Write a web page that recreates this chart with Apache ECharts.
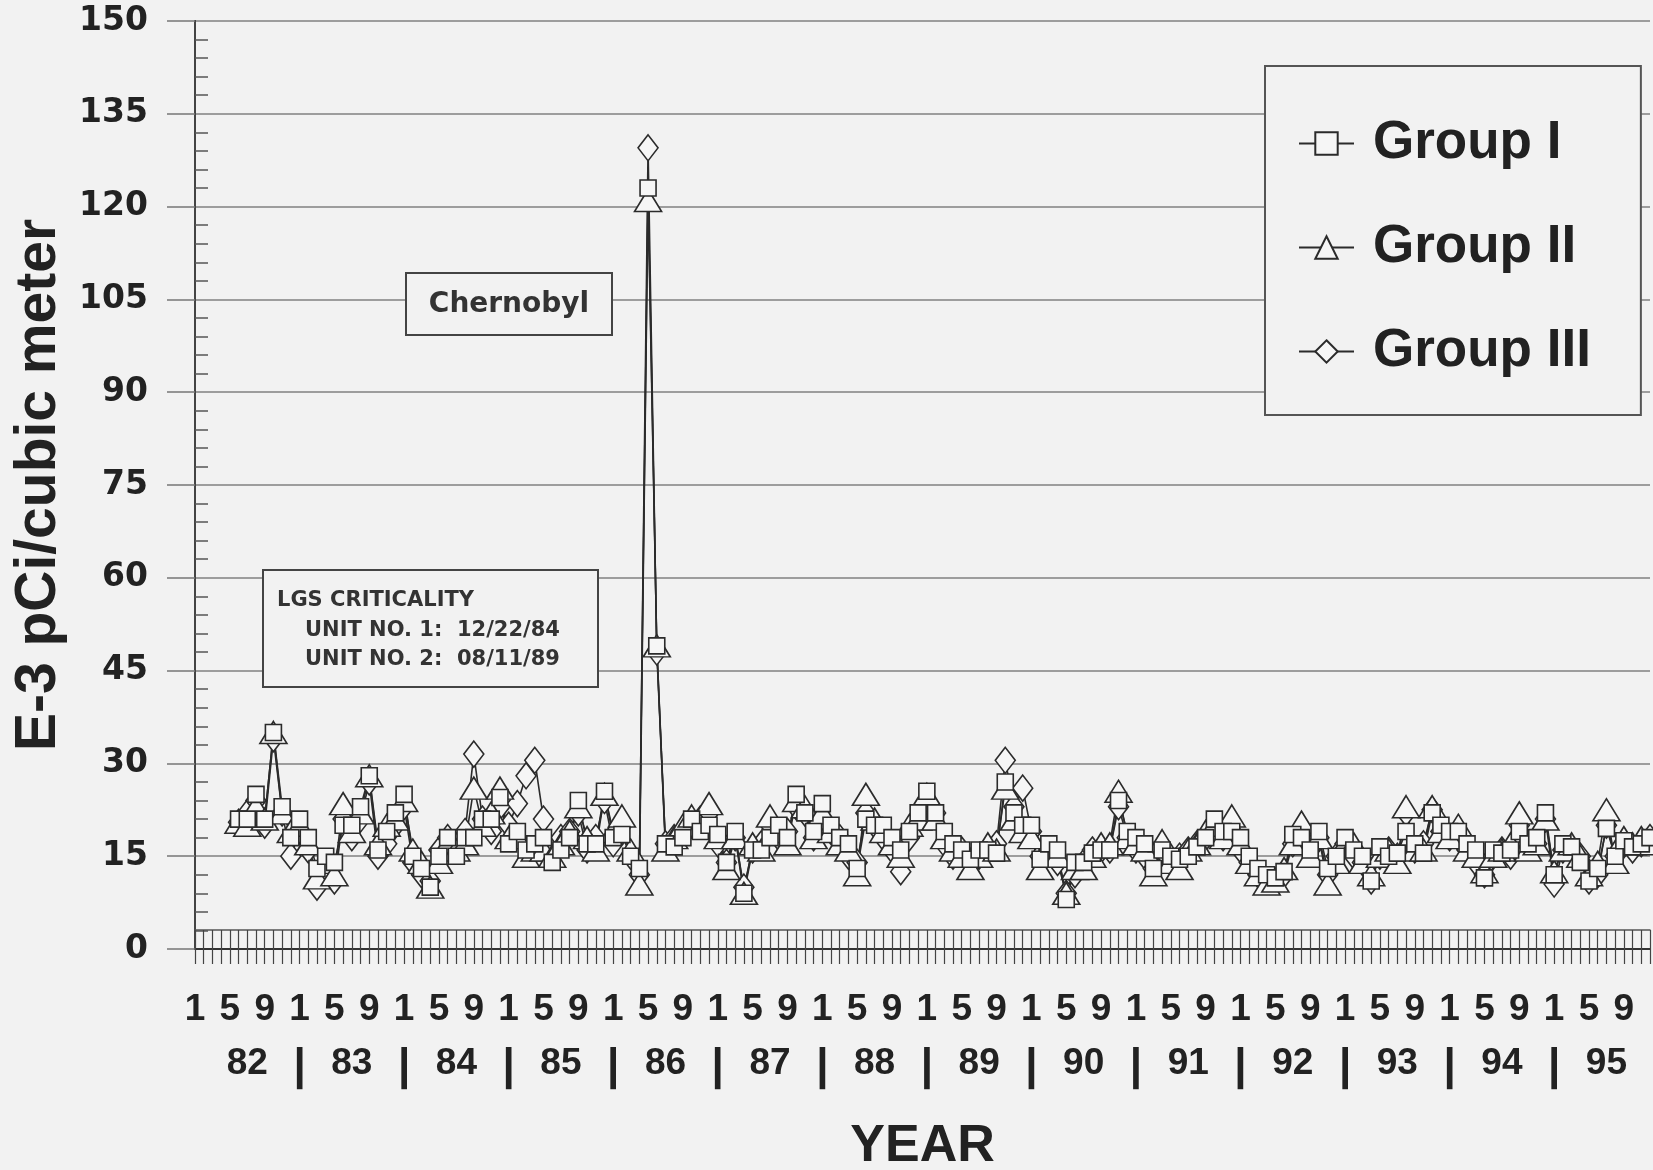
<!DOCTYPE html>
<html><head><meta charset="utf-8">
<script src="https://cdn.jsdelivr.net/npm/echarts@6/dist/echarts.min.js"></script>
<style>html,body{margin:0;padding:0;background:#f2f2f2}#c{width:1653px;height:1170px}</style>
</head><body><div id="c"></div>
<script>
// month index 0 = Jan 1982 ... 167 = Dec 1995; data begin at month index 5
const startMonth = 5;
const monthTickLabels = ['1', '5', '9'];
const yearLabels = ['82','83','84','85','86','87','88','89','90','91','92','93','94','95'];

const groupI = [
 21,21,25,21,35,23,18,21,18,13,
 15,14,20,20,23,28,16,19,22,25,
 15,13,10,15,18,15,18,18,21,21,
 24.5,17,19,16,17,18,14,16,18,24,
 17,17,25.5,18,18.5,15,13,123,49,17,
 16.5,18,21,19,20,18.5,14,19,9,16,
 16,18,20,18,25,22,19,23.5,20,18,
 17,13,21,20,20,18,16,19,22,25.5,
 22,19,17,16,14.5,16,16,15.5,27,22,
 20,20,14.5,17,16,8,14,14,15.5,16,
 16,24,19,18,17,13,16,15,14.5,
 15,16.5,18,21,19,19,18,15,13,12,
 11.5,12.5,18.5,18,16,19,13,15,18,16,
 15,11,16.5,15,15.5,19,17,15.5,22,20,
 19,19,17,16,11.5,16,15.5,16,19,17,
 18,22,12,17,16.5,14,11,13,19.5,15,
 17.5,16.5,17,18
];
const groupII = [
 20.5,20,23,21,35,22,19,20,17,11.5,
 14,12,23.5,19,22,28,17,20,21,24,
 16,14,10,14,17,16,17,26,20,22,
 26,18,18,15,16,16,15,17,19,23,
 18,16,25,19,21.5,16,10.5,121,49,16,
 18,20,21.5,20,23.5,18,13,18,9,17,
 16,21.5,19,17,24,23,18,22,19,17,
 16,12,25,21,19,17,15,20,21,25,
 21,18,16,15,13,15,17,16,26,21,
 19,18,13,16,15,9,13,13,15,17,
 17,25.5,18,17,16,12,17.5,14,13,
 16,17,19,20,18,21.5,17,14,12,10.5,
 11,13,17,20.5,15,18,10.5,14,17,17,
 14,12,15,16,14,23,16,16,23,19,
 18,20,16,15,12.5,15,16,17,22,16,
 17,21,12.5,16,17,15,12,14,22.5,14,
 18,17,18,17
];
const groupIII = [
 20.5,22,24,20,34,22,15,19,16,10,
 13,11,21,18,21,27,15,17,20,23,
 14,12,11,16,18,17,19,31.5,21,19,
 23,20,23.5,28,30.5,21,16,18,19,22,
 16,18,24,17,20,15,12,129.5,48,17,
 18,19,20,21,22,17,14,18,10,16,
 17,20,18,19,23,22,18,21,19,18,
 15,14,22,20,18,16,12.5,18,21,24,
 22,17,15,16,14,15,16,17,30.5,23,
 26,19,15,16,14,9,12,14,16,16,
 16,23,18,16,15,13,16,14,15,
 16,17,18,20,18,19,16,14,12,11,
 11,12,17,19,16,18,12,15,17,15,
 14,11,15,16,15,22,16,17,22.5,19,
 18,18,16,14,12,15,16,15,20,17,
 17,21,10.5,16,16,15,11,12,20,15,
 17,16,17,18
];

const lastMonth = yearLabels.length * 12 - 1; // 167 = Dec 95
const toPairs = arr => arr.map((v, k) => [startMonth + k, v]);

const ink = '#2b2b2b';
const fill = '#f6f6f6';
const boldArial = {fontFamily: '"Liberation Sans", Arial, sans-serif', fontWeight: 'bold', color: '#222'};

const chart = echarts.init(document.getElementById('c'), null, {renderer: 'canvas'});
chart.setOption({
  backgroundColor: '#f2f2f2',
  animation: false,
  grid: {left: 195, right: 3, top: 21, bottom: 221, containLabel: false, outerBoundsMode: 'none'},
  xAxis: [
    {
      type: 'value', min: 0, max: lastMonth, interval: 1, position: 'bottom',
      axisLine: {show: true, lineStyle: {color: '#333', width: 2}},
      axisTick: {show: true, length: 15, lineStyle: {color: '#444', width: 1.2}},
      splitLine: {show: false},
      axisLabel: Object.assign({margin: 42, fontSize: 37,
        formatter: v => (v % 4 === 0 && v < lastMonth) ? monthTickLabels[(v % 12) / 4] : ''}, boldArial),
      name: 'YEAR', nameLocation: 'middle', nameGap: 172,
      nameTextStyle: Object.assign({fontSize: 52}, boldArial)
    },
    {
      type: 'value', min: 0, max: lastMonth, interval: 6, position: 'bottom',
      axisLine: {show: false}, axisTick: {show: false}, splitLine: {show: false},
      axisLabel: Object.assign({margin: 96, fontSize: 37,
        formatter: v => {
          if (v % 12 === 6) return yearLabels[(v - 6) / 12];
          if (v > 0 && v < lastMonth && v % 12 === 0) return '{sep||}';
          return '';
        },
        rich: {sep: {fontSize: 44, fontWeight: 'bold', fontFamily: '"Liberation Sans", Arial, sans-serif', color: '#222'}}
      }, boldArial)
    },
    {
      type: 'value', min: 0, max: lastMonth, interval: 1, position: 'bottom', offset: -19,
      axisLine: {show: true, lineStyle: {color: '#555', width: 1.5}},
      axisTick: {show: true, length: 19, lineStyle: {color: '#444', width: 1.2}},
      axisLabel: {show: false}, splitLine: {show: false}
    }
  ],
  yAxis: [
    {
      type: 'value', min: 0, max: 150, interval: 15, position: 'left',
      axisLine: {show: true, lineStyle: {color: '#333', width: 2}},
      axisTick: {show: true, length: 28, lineStyle: {color: '#777', width: 1.5}},
      splitLine: {show: true, lineStyle: {color: '#808080', width: 1.5}},
      axisLabel: {margin: 47, fontSize: 33, fontFamily: '"DejaVu Sans", sans-serif', fontWeight: 'bold', color: '#222'},
      name: 'E-3 pCi/cubic meter', nameLocation: 'middle', nameRotate: 90, nameGap: 109,
      nameTextStyle: Object.assign({fontSize: 57}, boldArial)
    },
    {
      type: 'value', min: 0, max: 150, interval: 15, position: 'left',
      axisLine: {show: false}, axisTick: {show: false, inside: true}, axisLabel: {show: false},
      splitLine: {show: false},
      minorTick: {show: true, splitNumber: 5, length: 13, lineStyle: {color: '#555', width: 1.5}}
    },
    {
      type: 'value', min: 0, max: 150, interval: 15, position: 'right',
      axisLine: {show: true, lineStyle: {color: '#444', width: 2}},
      axisTick: {show: false}, axisLabel: {show: false}, splitLine: {show: false}
    }
  ],
  legend: {
    orient: 'vertical', left: 1265, top: 66,
    data: ['Group I', 'Group II', 'Group III'],
    itemWidth: 55, itemHeight: 28, itemGap: 51,
    padding: [51, 50, 37, 33],
    borderColor: '#555', borderWidth: 2, backgroundColor: '#f2f2f2',
    selectedMode: false,
    textStyle: Object.assign({fontSize: 53, padding: [0, 0, 0, 14]}, boldArial)
  },
  series: [
    {
      name: 'Group III', type: 'line', data: toPairs(groupIII),
      symbol: 'diamond', symbolSize: [20, 26],
      lineStyle: {color: ink, width: 1.6},
      itemStyle: {color: fill, borderColor: ink, borderWidth: 1.6},
      emphasis: {disabled: true}
    },
    {
      name: 'Group II', type: 'line', data: toPairs(groupII),
      symbol: 'triangle', symbolSize: [27, 22],
      lineStyle: {color: ink, width: 1.6},
      itemStyle: {color: fill, borderColor: ink, borderWidth: 1.6},
      emphasis: {disabled: true}
    },
    {
      name: 'Group I', type: 'line', data: toPairs(groupI),
      symbol: 'rect', symbolSize: 16,
      lineStyle: {color: ink, width: 1.6},
      itemStyle: {color: fill, borderColor: ink, borderWidth: 1.6},
      emphasis: {disabled: true}
    }
  ],
  graphic: [
    {type: 'rect', shape: {x: 406, y: 273, width: 206, height: 62},
     style: {fill: '#f2f2f2', stroke: '#444', lineWidth: 2}, z: 100},
    {type: 'text', x: 509, y: 305, z: 101,
     style: {text: 'Chernobyl', fontSize: 28, fontWeight: 'bold', fontFamily: '"DejaVu Sans", sans-serif',
             fill: '#333', align: 'center', verticalAlign: 'middle'}},
    {type: 'rect', shape: {x: 263, y: 570, width: 335, height: 117},
     style: {fill: '#f2f2f2', stroke: '#444', lineWidth: 2}, z: 100},
    {type: 'text', x: 277, y: 601, z: 101,
     style: {text: 'LGS CRITICALITY', fontSize: 21, fontWeight: 'bold', fontFamily: '"DejaVu Sans", sans-serif',
             fill: '#333', align: 'left', verticalAlign: 'middle'}},
    {type: 'text', x: 305, y: 631, z: 101,
     style: {text: 'UNIT NO. 1:  12/22/84', fontSize: 21, fontWeight: 'bold', fontFamily: '"DejaVu Sans", sans-serif',
             fill: '#333', align: 'left', verticalAlign: 'middle'}},
    {type: 'text', x: 305, y: 660, z: 101,
     style: {text: 'UNIT NO. 2:  08/11/89', fontSize: 21, fontWeight: 'bold', fontFamily: '"DejaVu Sans", sans-serif',
             fill: '#333', align: 'left', verticalAlign: 'middle'}}
  ]
});
</script>
</body></html>
